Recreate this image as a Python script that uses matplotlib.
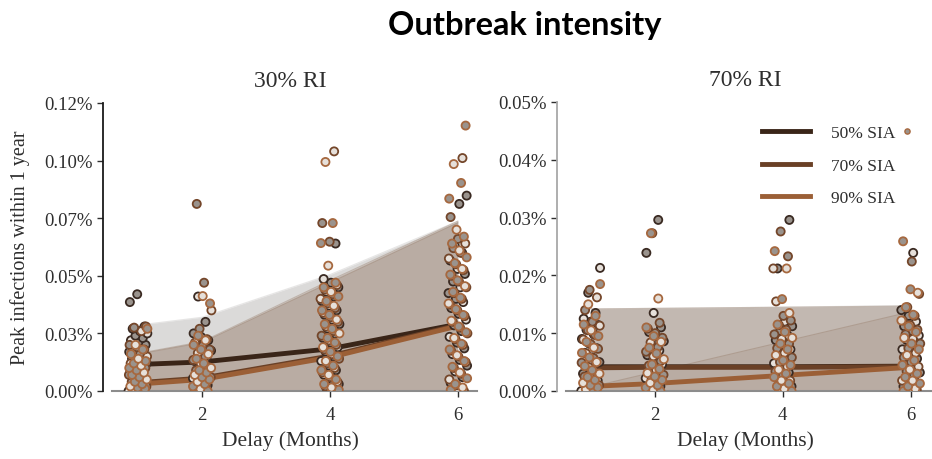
import matplotlib
matplotlib.use("Agg")
import matplotlib.pyplot as plt
from matplotlib.ticker import FormatStrFormatter
from matplotlib.lines import Line2D
import numpy as np

# ---------------- data ----------------
delays = [1, 2, 4, 6]
sia_labels = ["50% SIA", "70% SIA", "90% SIA"]
panel_titles = ["30% RI", "70% RI"]

# mean lines (% infected)
ri30_line50 = [0.0115, 0.0126, 0.0183, 0.0290]
ri30_line70 = [0.0036, 0.0056, 0.0152, 0.0286]
ri30_line90 = [0.0030, 0.0050, 0.0146, 0.0282]
ri70_line50 = [0.0042, 0.0042, 0.0042, 0.0043]
ri70_line70 = [0.0040, 0.0041, 0.0041, 0.0042]
ri70_line90 = [0.0008, 0.0013, 0.0027, 0.0041]

# upper bounds of shaded bands (lower bound is 0)
ri30_band50 = [0.0286, 0.0320, 0.0505, 0.0737]
ri30_band70 = [0.0163, 0.0214, 0.0480, 0.0737]
ri30_band90 = [0.0160, 0.0210, 0.0470, 0.0730]
ri70_band50 = [0.0142, 0.0143, 0.0145, 0.0148]
ri70_band70 = [0.0142, 0.0143, 0.0145, 0.0147]
ri70_band90 = [0.0007, 0.0033, 0.0085, 0.0137]

# simulation points per delay group (1, 2, 4, 6 months)
ri30_pts50 = [
    [0.000, 0.002, 0.004, 0.005, 0.007, 0.008, 0.010, 0.011, 0.012, 0.013, 0.014, 0.015,
     0.016, 0.017, 0.018, 0.019, 0.020, 0.021, 0.022, 0.023, 0.024, 0.025, 0.026, 0.027,
     0.028, 0.042, 0.0386],
    [0.001, 0.0025, 0.004, 0.0055, 0.007, 0.0085, 0.010, 0.0115, 0.013, 0.0145, 0.016,
     0.0175, 0.019, 0.0205, 0.022, 0.0235, 0.025, 0.030, 0.041],
    [0.001, 0.003, 0.005, 0.007, 0.009, 0.011, 0.013, 0.015, 0.017, 0.019, 0.021, 0.023,
     0.025, 0.027, 0.029, 0.031, 0.033, 0.035, 0.037, 0.039, 0.041, 0.043, 0.045, 0.047,
     0.0486, 0.064],
    [0.001, 0.0035, 0.006, 0.0085, 0.011, 0.0135, 0.016, 0.0185, 0.021, 0.0235, 0.026,
     0.0285, 0.031, 0.0335, 0.036, 0.0386, 0.040, 0.0425, 0.045, 0.0475, 0.0508, 0.053,
     0.0566, 0.060, 0.063, 0.0848, 0.0812],
]
ri30_pts70 = [
    [0.001, 0.002, 0.003, 0.004, 0.005, 0.006, 0.007, 0.008, 0.009, 0.010, 0.011, 0.012,
     0.013, 0.014, 0.015, 0.016, 0.017, 0.018, 0.019, 0.020, 0.026, 0.0275, 0.028],
    [0.000, 0.0015, 0.003, 0.0045, 0.006, 0.0075, 0.009, 0.0105, 0.012, 0.0135, 0.015,
     0.0165, 0.018, 0.0195, 0.021, 0.0225, 0.027, 0.035, 0.047, 0.0812],
    [0.000, 0.002, 0.004, 0.006, 0.008, 0.010, 0.012, 0.014, 0.016, 0.018, 0.020, 0.022,
     0.024, 0.026, 0.028, 0.030, 0.032, 0.034, 0.036, 0.038, 0.040, 0.042, 0.044, 0.046,
     0.0648, 0.0729, 0.104],
    [0.000, 0.0025, 0.005, 0.0075, 0.010, 0.0125, 0.015, 0.0175, 0.020, 0.0225, 0.025,
     0.0275, 0.030, 0.0325, 0.035, 0.0375, 0.040, 0.0425, 0.045, 0.0475, 0.050, 0.0525,
     0.055, 0.0575, 0.060, 0.062, 0.064, 0.066, 0.0755, 0.1011],
]
ri30_pts90 = [
    [0.000, 0.0005, 0.001, 0.0015, 0.002, 0.003, 0.004, 0.005, 0.006, 0.007, 0.008, 0.009,
     0.010, 0.011, 0.012, 0.013, 0.014, 0.016, 0.018, 0.020, 0.027],
    [0.000, 0.001, 0.002, 0.003, 0.004, 0.005, 0.006, 0.007, 0.008, 0.009, 0.010, 0.012,
     0.014, 0.016, 0.018, 0.020, 0.022, 0.024, 0.038, 0.0412],
    [0.0005, 0.0015, 0.003, 0.005, 0.007, 0.009, 0.011, 0.013, 0.015, 0.017, 0.019, 0.021,
     0.023, 0.025, 0.027, 0.029, 0.031, 0.033, 0.035, 0.037, 0.039, 0.041, 0.043, 0.045,
     0.047, 0.0544, 0.0642, 0.0729, 0.0994],
    [0.0005, 0.0015, 0.003, 0.0055, 0.008, 0.0105, 0.013, 0.0155, 0.018, 0.0205, 0.023,
     0.0255, 0.028, 0.0305, 0.033, 0.0355, 0.038, 0.0405, 0.043, 0.0455, 0.048, 0.0505,
     0.053, 0.0555, 0.058, 0.061, 0.064, 0.067, 0.070, 0.0835, 0.0903, 0.0985, 0.1152],
]
ri70_pts50 = [
    [0.0000, 0.0006, 0.0012, 0.0018, 0.0024, 0.0030, 0.0036, 0.0042, 0.0050, 0.0058,
     0.0066, 0.0074, 0.0082, 0.0090, 0.0098, 0.0106, 0.0114, 0.0120, 0.0125, 0.0135,
     0.0170, 0.0213],
    [0.0002, 0.0008, 0.0015, 0.0022, 0.0030, 0.0038, 0.0046, 0.0054, 0.0062, 0.0070,
     0.0078, 0.0086, 0.0094, 0.0102, 0.0110, 0.0135, 0.0239, 0.0296],
    [0.0001, 0.0008, 0.0016, 0.0024, 0.0032, 0.0040, 0.0048, 0.0056, 0.0064, 0.0072,
     0.0080, 0.0088, 0.0096, 0.0104, 0.0112, 0.0120, 0.0212, 0.0296],
    [0.0001, 0.0008, 0.0016, 0.0024, 0.0032, 0.0040, 0.0048, 0.0056, 0.0064, 0.0072,
     0.0080, 0.0088, 0.0096, 0.0104, 0.0112, 0.0120, 0.0130, 0.0140, 0.0239],
]
ri70_pts70 = [
    [0.0003, 0.0010, 0.0017, 0.0025, 0.0033, 0.0041, 0.0049, 0.0057, 0.0065, 0.0073,
     0.0081, 0.0089, 0.0097, 0.0105, 0.0113, 0.0120, 0.0140, 0.0162, 0.0175],
    [0.0001, 0.0007, 0.0014, 0.0021, 0.0028, 0.0036, 0.0044, 0.0052, 0.0060, 0.0068,
     0.0076, 0.0084, 0.0092, 0.0100, 0.0108, 0.0118, 0.0273],
    [0.0002, 0.0010, 0.0018, 0.0026, 0.0034, 0.0042, 0.0050, 0.0058, 0.0066, 0.0074,
     0.0082, 0.0090, 0.0098, 0.0106, 0.0114, 0.0122, 0.0130, 0.0155, 0.0233, 0.0276,
     0.0212],
    [0.0002, 0.0010, 0.0018, 0.0026, 0.0034, 0.0042, 0.0050, 0.0058, 0.0066, 0.0074,
     0.0082, 0.0090, 0.0098, 0.0106, 0.0114, 0.0122, 0.0130, 0.0145, 0.0168, 0.0224],
]
ri70_pts90 = [
    [0.0000, 0.0003, 0.0006, 0.0010, 0.0014, 0.0019, 0.0024, 0.0030, 0.0036, 0.0043,
     0.0050, 0.0058, 0.0066, 0.0075, 0.0085, 0.0095, 0.0105, 0.0115, 0.0130, 0.0150,
     0.0185],
    [0.0000, 0.0003, 0.0006, 0.0010, 0.0014, 0.0019, 0.0025, 0.0031, 0.0038, 0.0046,
     0.0055, 0.0065, 0.0075, 0.0085, 0.0095, 0.0110, 0.0160, 0.0273],
    [0.0000, 0.0004, 0.0008, 0.0013, 0.0018, 0.0024, 0.0030, 0.0037, 0.0045, 0.0053,
     0.0062, 0.0072, 0.0082, 0.0092, 0.0102, 0.0115, 0.0135, 0.0159, 0.0242, 0.0212],
    [0.0000, 0.0004, 0.0008, 0.0013, 0.0018, 0.0024, 0.0030, 0.0037, 0.0045, 0.0053,
     0.0062, 0.0072, 0.0082, 0.0092, 0.0102, 0.0112, 0.0122, 0.0132, 0.0145, 0.0170,
     0.0176, 0.0259],
]

# ---------------- style ----------------
serif = ["Liberation Serif", "DejaVu Serif"]
plt.rcParams["font.family"] = serif
line_colors = ["#3a2518", "#6a4026", "#9b5f36"]
edge_colors = ["#3a2a22", "#74462a", "#a6683f"]
band_colors = [("#b9b7b5", 0.5), ("#8a6b55", 0.3), ("#8a6b55", 0.15)]
txt = "#2e2e2e"

fig = plt.figure(figsize=(9.32, 4.6), dpi=100)
fig.text(0.563, 0.945, "Outbreak intensity", ha="center", va="center",
         fontsize=23.5, fontweight="bold", family=["Lato", "DejaVu Sans"])

ax1 = fig.add_axes([103 / 932, 68 / 460, 374 / 932, 288 / 460])
ax2 = fig.add_axes([557 / 932, 68 / 460, 376 / 932, 289 / 460])

panels = [
    (ax1, [ri30_line50, ri30_line70, ri30_line90], [ri30_band50, ri30_band70, ri30_band90],
     [ri30_pts50, ri30_pts70, ri30_pts90], [0, 0.025, 0.05, 0.075, 0.1, 0.125], (0.45, 6.3), "#1a1a1a"),
    (ax2, [ri70_line50, ri70_line70, ri70_line90], [ri70_band50, ri70_band70, ri70_band90],
     [ri70_pts50, ri70_pts70, ri70_pts90], [0, 0.01, 0.02, 0.03, 0.04, 0.05], (0.47, 6.35), "#a8a8a8"),
]

for k, (ax, lines, bands, pts, yt, xl, spc) in enumerate(panels):
    for b, (c, a) in zip(bands, band_colors):
        ax.fill_between(delays, 0, b, color=c, alpha=a, lw=0, zorder=1)
        ax.plot(delays, b, color=c, alpha=0.35, lw=0.8, zorder=1)
    for ln, c, lab in zip(lines, line_colors, sia_labels):
        ax.plot(delays, ln, color=c, lw=3.5, solid_capstyle="butt", zorder=3, label=lab)
    for s, series in enumerate(pts):
        for g, vals in enumerate(series):
            n = len(vals)
            off = np.array([((i * 0.618 + s * 0.31 + g * 0.17) % 1.0) - 0.5 for i in range(n)]) * 0.3
            faces = ["#9a938d" if (i + s) % 3 else "#e6e0da" for i in range(n)]
            ax.scatter(np.full(n, delays[g]) + off, vals, s=34, facecolors=faces,
                       edgecolors=edge_colors[s], linewidths=1.3, zorder=4)
    ax.set_xlim(*xl)
    ax.set_ylim(0, yt[-1])
    ax.set_yticks(yt)
    ax.yaxis.set_major_formatter(FormatStrFormatter("%.2f%%"))
    ax.set_xticks([2, 4, 6])
    ax.tick_params(axis="both", labelsize=13.5, colors=txt, length=4, width=1)
    ax.tick_params(axis="x", pad=7)
    ax.spines["top"].set_visible(False)
    ax.spines["right"].set_visible(False)
    ax.spines["left"].set_color(spc)
    ax.spines["left"].set_linewidth(1.3)
    ax.spines["bottom"].set_color("#8c8c8c")
    ax.spines["bottom"].set_linewidth(1.5)
    ax.spines["bottom"].set_bounds(xl[0] + 0.14, xl[1])
    ax.set_xlabel("Delay (Months)", fontsize=15.5, color=txt, labelpad=5)
    ax.set_title(panel_titles[k], fontsize=17, color=txt, pad=12)
    ax.set_facecolor("none")

ax1.set_ylabel("Peak infections within 1 year", fontsize=14.5, color=txt)
ax1.yaxis.set_label_coords(-0.195, 0.5)

leg = ax2.legend(handles=[Line2D([], [], color=c, lw=3.5) for c in line_colors], labels=sia_labels,
                 loc="upper right", bbox_to_anchor=(0.942, 0.975), frameon=False, fontsize=12.5,
                 handlelength=2.8, labelspacing=0.95, handletextpad=1.2)
for t in leg.get_texts():
    t.set_color(txt)
ax2.scatter([0.93], [0.9], s=14, transform=ax2.transAxes, facecolors="#9a938d",
            edgecolors="#a6683f", linewidths=1.0, zorder=5, clip_on=False)

fig.savefig("out.png", dpi=100)
